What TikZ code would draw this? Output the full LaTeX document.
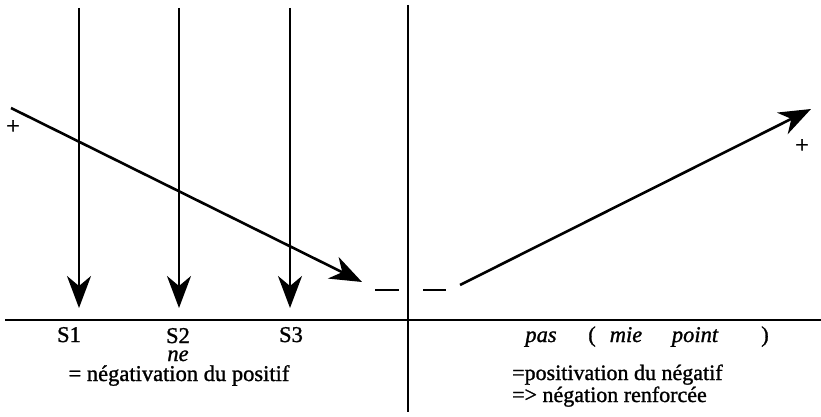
\documentclass[tikz,border=0pt]{standalone}
\usepackage{fontspec}
\setmainfont[FakeBold=1.2]{Liberation Serif}
\usetikzlibrary{arrows.meta}
\begin{document}
\begin{tikzpicture}[x=1pt,y=-1pt,
  bigarrow/.style={line width=2.6pt,-{Stealth[length=32pt,width=24pt,inset=10pt]}},
  vline/.style={line width=2pt},
  dashseg/.style={line width=2.2pt},
  lbl/.style={anchor=base,inner sep=0pt,font=\fontsize{22.5}{26}\selectfont},
  lbll/.style={anchor=base west,inner sep=0pt,font=\fontsize{22}{26}\selectfont},
  plus/.style={inner sep=0pt,font=\fontsize{24}{26}\selectfont},
]
\useasboundingbox (0,0) rectangle (821,417);
% coordinates
\coordinate (t1) at (79,8);   \coordinate (b1) at (79,308);
\coordinate (t2) at (179,8);  \coordinate (b2) at (179,308);
\coordinate (t3) at (290,8);  \coordinate (b3) at (290,308);
\coordinate (ct) at (408,5);  \coordinate (cb) at (408,412);
\coordinate (al) at (5,320);  \coordinate (ar) at (821,320);
\coordinate (d0) at (11,108); \coordinate (d1) at (362,282);
\coordinate (m1) at (375,290); \coordinate (m2) at (399,290);
\coordinate (m3) at (423,290); \coordinate (m4) at (446,290);
\coordinate (a0) at (460,285); \coordinate (a1) at (811,109);
% lines
\draw[vline] (al) -- (ar);
\draw[vline] (ct) -- (cb);
\draw[bigarrow] (t1) -- (b1);
\draw[bigarrow] (t2) -- (b2);
\draw[bigarrow] (t3) -- (b3);
\draw[bigarrow] (d0) -- (d1);
\draw[bigarrow] (a0) -- (a1);
\draw[dashseg] (m1) -- (m2);
\draw[dashseg] (m3) -- (m4);
% signs
\node[plus] (pl) at (13,127) {+};
\node[plus] (pr) at (802,146) {+};
% labels left
\node[lbl] (s1) at (69,342) {S1};
\node[lbl,align=center,font=\fontsize{22.5}{18}\selectfont] (s2) at (178,381)
  {S2\\{\itshape ne}\\[2pt]\hspace*{2pt}= négativation du positif};
\node[lbl] (s3) at (291,342) {S3};
% labels right
\node[lbl] (pas) at (541,342) {\itshape pas};
\node[lbl] (po) at (592,342) {(};
\node[lbl] (mie) at (626,342) {\itshape mie};
\node[lbl] (pt) at (695,342) {\itshape point};
\node[lbl] (pc) at (765,342) {)};
\node[lbll] (pos) at (512,380) {=positivation du négatif};
\node[lbll] (ren) at (512,402) {=> négation renforcée};
\end{tikzpicture}
\end{document}
